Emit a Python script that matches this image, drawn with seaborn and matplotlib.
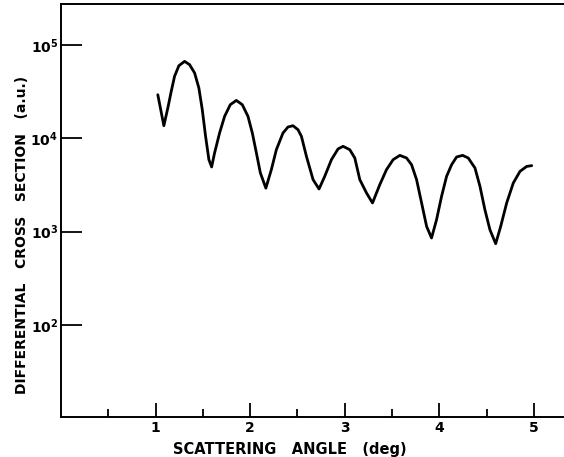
import numpy as np
import pandas as pd
import matplotlib
matplotlib.use("Agg")
import matplotlib.pyplot as plt
import matplotlib.ticker as mticker
import seaborn as sns

angle = [1.024, 1.088, 1.130, 1.166, 1.201, 1.247, 1.307, 1.360, 1.413, 1.458,
         1.494, 1.529, 1.564, 1.593, 1.624, 1.677, 1.730, 1.790, 1.854, 1.917,
         1.977, 2.023, 2.066, 2.108, 2.166, 2.224, 2.277, 2.347, 2.400, 2.453,
         2.506, 2.542, 2.595, 2.665, 2.728, 2.788, 2.859, 2.929, 2.982, 3.053,
         3.106, 3.159, 3.230, 3.293, 3.370, 3.441, 3.511, 3.582, 3.653, 3.706,
         3.759, 3.812, 3.865, 3.917, 3.970, 4.023, 4.076, 4.129, 4.182, 4.246,
         4.305, 4.376, 4.429, 4.481, 4.534, 4.595, 4.648, 4.711, 4.781, 4.852,
         4.923, 4.976]
log_sigma = [4.467, 4.135, 4.325, 4.503, 4.664, 4.778, 4.824, 4.789, 4.700, 4.539,
             4.307, 4.021, 3.771, 3.693, 3.843, 4.057, 4.235, 4.360, 4.406, 4.360,
             4.235, 4.057, 3.843, 3.629, 3.466, 3.664, 3.878, 4.057, 4.121, 4.135,
             4.092, 4.021, 3.806, 3.557, 3.457, 3.592, 3.771, 3.886, 3.914, 3.878,
             3.789, 3.557, 3.414, 3.307, 3.503, 3.664, 3.771, 3.817, 3.789, 3.717,
             3.557, 3.307, 3.056, 2.932, 3.128, 3.378, 3.592, 3.717, 3.800, 3.817,
             3.789, 3.682, 3.485, 3.235, 3.021, 2.871, 3.056, 3.307, 3.521, 3.646,
             3.699, 3.707]
sigma = [10 ** v for v in log_sigma]

x_major = [1, 2, 3, 4, 5]
x_minor = [0.5, 1.5, 2.5, 3.5, 4.5]
y_major = [1e2, 1e3, 1e4, 1e5]
y_labels = [r"$\mathbf{10^{2}}$", r"$\mathbf{10^{3}}$", r"$\mathbf{10^{4}}$", r"$\mathbf{10^{5}}$"]

df = pd.DataFrame({"angle": angle, "sigma": sigma})

sns.set_style("ticks")
plt.rcParams["font.family"] = ["DejaVu Sans"]
plt.rcParams["text.color"] = "black"
plt.rcParams["axes.labelcolor"] = "black"
plt.rcParams["xtick.color"] = "black"
plt.rcParams["ytick.color"] = "black"

fig = plt.figure(figsize=(5.64, 4.57), dpi=100)
ax = fig.add_axes([0.108, 0.0875, 0.892, 0.904])

sns.lineplot(data=df, x="angle", y="sigma", ax=ax, color="black", linewidth=2.0,
             sort=False, estimator=None)
for l in ax.get_lines():
    l.set_solid_joinstyle("round")
    l.set_solid_capstyle("round")

ax.set_yscale("log")
ax.set_xlim(0, 5.317)
ax.set_ylim(10 ** 1.014, 10 ** 5.44)

ax.set_xticks(x_major)
ax.set_xticklabels([str(v) for v in x_major], fontsize=10, fontweight="bold")
ax.xaxis.set_minor_locator(mticker.FixedLocator(x_minor))
ax.set_yticks(y_major)
ax.set_yticklabels(y_labels, fontsize=10)
ax.yaxis.set_minor_locator(mticker.NullLocator())

ax.tick_params(axis="x", which="major", direction="in", length=10, width=1.3, pad=3)
ax.tick_params(axis="x", which="minor", direction="in", length=6, width=1.3)
ax.tick_params(axis="y", which="major", direction="in", length=15, width=1.3, pad=2)

for s in ["left", "bottom", "top"]:
    ax.spines[s].set_linewidth(1.4)
    ax.spines[s].set_color("black")
ax.spines["right"].set_visible(False)

ax.set_xlabel("SCATTERING   ANGLE   (deg)", fontsize=10.5, fontweight="bold")
ax.xaxis.set_label_coords(0.455, -0.06)
ax.set_ylabel("DIFFERENTIAL   CROSS   SECTION   (a.u.)", fontsize=10,
              fontweight="bold", va="center")
ax.yaxis.set_label_coords(-0.0775, 0.4407)

fig.savefig("out.png", dpi=100)
